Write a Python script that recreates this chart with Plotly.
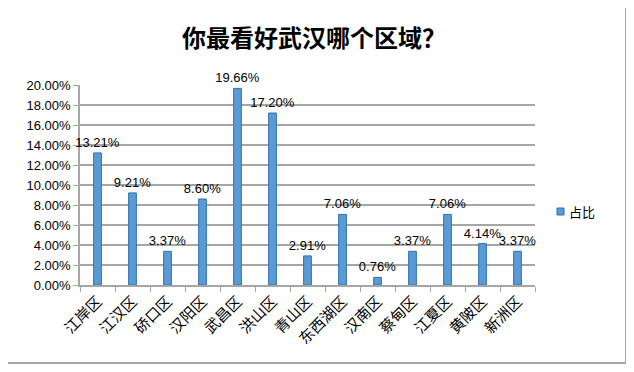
import plotly.graph_objects as go

categories = ["江岸区", "江汉区", "硚口区", "汉阳区", "武昌区", "洪山区", "青山区",
              "东西湖区", "汉南区", "蔡甸区", "江夏区", "黄陂区", "新洲区"]
values = [13.21, 9.21, 3.37, 8.60, 19.66, 17.20, 2.91, 7.06, 0.76, 3.37, 7.06, 4.14, 3.37]
series_name = "占比"
title_text = "你最看好武汉哪个区域？"

OFF = 8  # page body margin
W, H = 634 - OFF, 372 - OFF
# plot area in page pixels
PX0, PX1, PY0, PY1 = 80, 535, 85, 285
L, R, T, B = PX0 - OFF, W - (PX1 - OFF), PY0 - OFF, H - (PY1 - OFF)
pw, ph = PX1 - PX0, PY1 - PY0

def px_x(px):
    return (px - PX0) / pw

def px_y(py):
    return (PY1 - py) / ph

BAR = "#5B9BD5"

fig = go.Figure()
fig.add_trace(go.Bar(
    x=categories,
    y=[v / 100 for v in values],
    name=series_name,
    width=0.22,
    marker=dict(color=BAR, line=dict(color="#2F6EB0", width=1)),
    text=[f"{v:.2f}%" for v in values],
    textposition="outside",
    constraintext="none",
    textfont=dict(family="Liberation Sans, Arial", size=13, color="#000"),
    cliponaxis=False,
    showlegend=False,
))

shapes = [
    dict(type="rect", xref="paper", yref="paper",
         x0=px_x(5), x1=px_x(626), y0=px_y(363), y1=px_y(3),
         line=dict(color="#8c8c8c", width=1.5), fillcolor="rgba(0,0,0,0)", layer="below"),
    dict(type="rect", xref="paper", yref="paper",
         x0=px_x(557), x1=px_x(564), y0=px_y(215), y1=px_y(208),
         line=dict(color="#2F6EB0", width=1), fillcolor=BAR),
]

fig.update_layout(
    width=W, height=H,
    margin=dict(l=L, r=R, t=T, b=B, autoexpand=False),
    paper_bgcolor="white", plot_bgcolor="white",
    title=dict(text=f"<b>{title_text}</b>", x=(314 - OFF) / W, xanchor="center",
               y=1 - (39 - OFF) / H, yanchor="middle",
               font=dict(family="Noto Sans CJK SC", size=24, color="#000")),
    bargap=0.75,
    xaxis=dict(tickangle=-45, tickfont=dict(family="Noto Sans CJK SC", size=15, color="#000"),
               showline=True, linecolor="#a6a6a6", linewidth=1.5,
               ticks="outside", ticklen=5, tickcolor="#a6a6a6", tickson="boundaries",
               showgrid=False, layer="below traces"),
    yaxis=dict(range=[0, 0.2], dtick=0.02, tickformat=".2%",
               tickfont=dict(family="Liberation Sans, Arial", size=13, color="#000"),
               showgrid=True, gridcolor="#a6a6a6", gridwidth=1.5,
               showline=True, linecolor="#a6a6a6", linewidth=1.5,
               ticks="outside", ticklen=5, tickcolor="#a6a6a6", zeroline=False,
               layer="below traces"),
    showlegend=False,
    annotations=[dict(text=series_name, xref="paper", yref="paper",
                      x=px_x(567), y=px_y(211.5), xanchor="left", yanchor="middle",
                      showarrow=False,
                      font=dict(family="Noto Sans CJK SC", size=13, color="#000"))],
    shapes=shapes,
)

fig.write_html("out.html")
